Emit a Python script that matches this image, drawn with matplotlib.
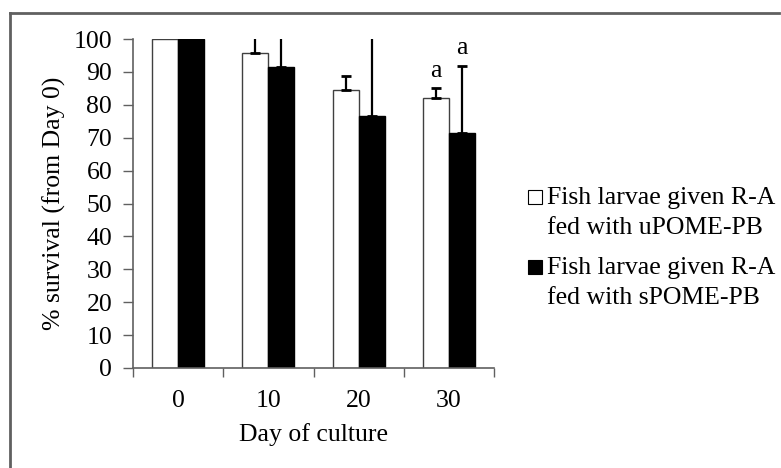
import matplotlib
matplotlib.use("Agg")
import matplotlib.pyplot as plt
from matplotlib.patches import Rectangle
from matplotlib.lines import Line2D
import numpy as np

plt.rcParams['font.family'] = ['Liberation Serif', 'DejaVu Serif']

days = ["0", "10", "20", "30"]
u_vals = [100, 95.6, 84.5, 82.0]
u_err = [0, 5.0, 4.2, 3.0]
s_vals = [100, 91.4, 76.7, 71.4]
s_err = [0, 10.0, 25.0, 20.5]
u_labels = ["", "", "", "a"]
s_labels = ["", "", "", "a"]
legend_labels = ["Fish larvae given R-A\nfed with uPOME-PB",
                 "Fish larvae given R-A\nfed with sPOME-PB"]
yticks = list(range(0, 101, 10))

FS = 18.5
W, H = 781, 468
fig = plt.figure(figsize=(W / 100, H / 100), dpi=100)
ax = fig.add_axes([133 / W, 1 - 368 / H, (494 - 133) / W, (368 - 39) / H])

x = np.arange(len(days))
bw = 0.289
off = bw / 2
ax.bar(x - off, u_vals, bw, color='white', edgecolor='#404040', linewidth=1.0, zorder=2)
ax.bar(x + off, s_vals, bw, color='black', edgecolor='black', linewidth=1.0, zorder=2)

for vals, errs, sgn in [(u_vals, u_err, -1), (s_vals, s_err, 1)]:
    idx = [i for i in range(len(days)) if errs[i] > 0]
    ax.errorbar([x[i] + sgn * off for i in idx], [vals[i] for i in idx],
                yerr=[np.zeros(len(idx)), [errs[i] for i in idx]], fmt='none',
                ecolor='black', elinewidth=1.6, capsize=3.5, capthick=2, zorder=3)

for i in range(len(days)):
    if u_labels[i]:
        ax.text(x[i] - off, u_vals[i] + u_err[i] + 2.0, u_labels[i], ha='center',
                va='bottom', fontsize=FS)
    if s_labels[i]:
        ax.text(x[i] + off, s_vals[i] + s_err[i] + 2.0, s_labels[i], ha='center',
                va='bottom', fontsize=FS)

ax.set_xlim(-0.5, len(days) - 0.5)
ax.set_ylim(0, 100)
ax.set_yticks(yticks)
ax.set_yticklabels([str(t) for t in yticks], fontsize=FS)
ax.set_xticks(np.arange(-0.5, len(days), 1.0))
ax.set_xticklabels([])
ax.set_xticks(x, minor=True)
ax.set_xticklabels(days, minor=True, fontsize=FS)
ax.tick_params(axis='x', which='minor', length=0, pad=16)
ax.tick_params(axis='x', which='major', length=6.5, width=1, color='#606060', direction='out')
ax.tick_params(axis='y', length=7, width=1, color='#606060', direction='out', pad=8)
for s in ['top', 'right']:
    ax.spines[s].set_visible(False)
for s in ['left', 'bottom']:
    ax.spines[s].set_color('#606060')
    ax.spines[s].set_linewidth(1.2)

ax.set_xlabel("Day of culture", fontsize=FS, labelpad=8)
ax.set_ylabel("% survival (from Day 0)", fontsize=FS)
ax.yaxis.set_label_coords(-(133 - 66) / (494 - 133), 0.5)

# outer frame (left and top)
fig.add_artist(Line2D([10 / W, 10 / W], [0, 1 - 13 / H], transform=fig.transFigure,
                      color='#606060', linewidth=2))
fig.add_artist(Line2D([10 / W, 779 / W], [1 - 13 / H, 1 - 13 / H], transform=fig.transFigure,
                      color='#606060', linewidth=2))

# legend
colors = ['white', 'black']
ys = [197, 267]
for lab, c, yy in zip(legend_labels, colors, ys):
    fig.add_artist(Rectangle((528 / W, 1 - (yy + 7) / H), 14 / W, 14 / H,
                             transform=fig.transFigure, facecolor=c,
                             edgecolor='black', linewidth=0.8))
    fig.text(547 / W, 1 - (yy + 16) / H, lab, fontsize=FS, ha='left', va='center',
             linespacing=1.45)

fig.savefig("out.png", dpi=100)
